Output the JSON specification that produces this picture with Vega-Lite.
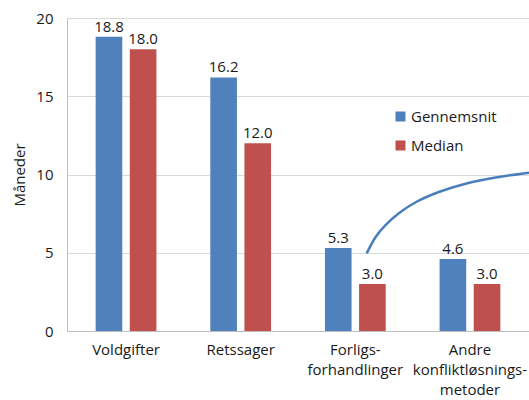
{
  "$schema": "https://vega.github.io/schema/vega-lite/v6.json",
  "autosize": {"type": "none"},
  "padding": {"left": 67, "top": 18, "right": 0, "bottom": 69},
  "width": 462,
  "height": 313,
  "background": "white",
  "config": {
    "font": "Open Sans",
    "view": {"stroke": null},
    "axis": {"labelFont": "Open Sans", "titleFont": "Open Sans"}
  },
  "datasets": {
    "bars": [
      {"category": "Voldgifter", "series": "Gennemsnit", "value": 18.8},
      {"category": "Voldgifter", "series": "Median", "value": 18.0},
      {"category": "Retssager", "series": "Gennemsnit", "value": 16.2},
      {"category": "Retssager", "series": "Median", "value": 12.0},
      {"category": "Forligs-|forhandlinger", "series": "Gennemsnit", "value": 5.3},
      {"category": "Forligs-|forhandlinger", "series": "Median", "value": 3.0},
      {"category": "Andre|konfliktløsnings-|metoder", "series": "Gennemsnit", "value": 4.6},
      {"category": "Andre|konfliktløsnings-|metoder", "series": "Median", "value": 3.0}
    ],
    "curve": [
      {"px": 2.595, "py": 4.96},
      {"px": 2.667, "py": 6.03},
      {"px": 2.753, "py": 6.77},
      {"px": 2.868, "py": 7.52},
      {"px": 3.013, "py": 8.26},
      {"px": 3.215, "py": 8.9},
      {"px": 3.446, "py": 9.44},
      {"px": 3.706, "py": 9.82},
      {"px": 4.0, "py": 10.12}
    ]
  },
  "layer": [
    {
      "data": {"name": "bars"},
      "encoding": {
        "x": {
          "field": "category", "type": "nominal", "sort": null,
          "scale": {"paddingInner": 0.47, "paddingOuter": 0.25},
          "axis": {
            "title": null, "labelAngle": 0, "ticks": false, "labelPadding": 11,
            "labelFontSize": 15, "labelColor": "#1a1a1a", "domainColor": "#bfbfbf",
            "labelExpr": "split(datum.label, '|')", "labelLineHeight": 20
          }
        },
        "xOffset": {"field": "series", "type": "nominal", "scale": {"paddingInner": 0.22}},
        "y": {
          "field": "value", "type": "quantitative",
          "scale": {"domain": [0, 20], "nice": false},
          "axis": {
            "title": "Måneder", "titleFontSize": 15, "titleFontWeight": "normal", "titleColor": "#1a1a1a",
            "titlePadding": 8, "values": [0, 5, 10, 15, 20], "ticks": false, "labelPadding": 14,
            "labelFontSize": 15, "labelColor": "#1a1a1a", "domainColor": "#bfbfbf",
            "gridColor": "#d9d9d9"
          }
        }
      },
      "layer": [
        {
          "mark": {"type": "bar"},
          "encoding": {
            "color": {
              "field": "series", "type": "nominal",
              "scale": {"domain": ["Gennemsnit", "Median"], "range": ["#4f81bd", "#c0504d"]},
              "legend": {
                "title": null, "orient": "none", "legendX": 326, "legendY": 91,
                "symbolType": "square", "symbolSize": 100, "symbolStrokeWidth": 0,
                "labelFontSize": 15, "labelColor": "#1a1a1a", "rowPadding": 13, "symbolOffset": 0, "labelOffset": 3
              }
            }
          }
        },
        {
          "mark": {"type": "text", "dy": -10, "fontSize": 15, "color": "#1a1a1a"},
          "encoding": {"text": {"field": "value", "type": "quantitative", "format": ".1f"}}
        }
      ]
    },
    {
      "data": {"name": "curve"},
      "mark": {"type": "line", "interpolate": "basis", "color": "#4a7ebb", "strokeWidth": 2.5, "clip": true},
      "encoding": {
        "x": {"field": "px", "type": "quantitative", "scale": {"domain": [0, 4], "nice": false, "zero": false}, "axis": null},
        "y": {"field": "py", "type": "quantitative"}
      }
    }
  ],
  "resolve": {"scale": {"x": "independent"}, "axis": {"x": "independent"}}
}
